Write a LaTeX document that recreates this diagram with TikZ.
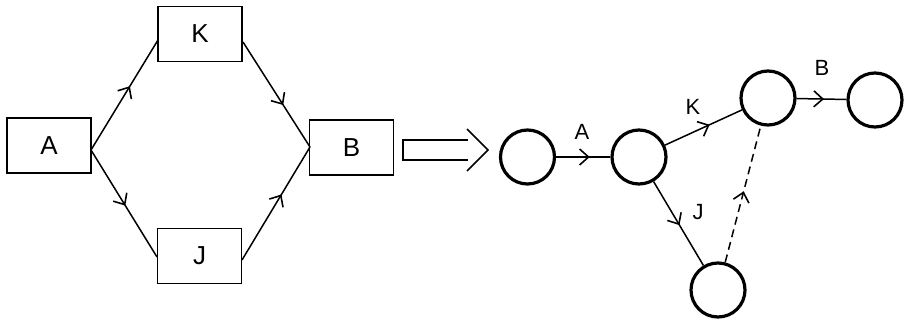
\documentclass[tikz,border=0pt]{standalone}
\usepackage{fontspec}
\setmainfont{Liberation Sans}
\usetikzlibrary{arrows.meta,decorations.markings}
\tikzset{
  box/.style={draw, line width=1.6pt, minimum width=84pt, minimum height=55pt, inner sep=0pt, font=\fontsize{26}{30}\selectfont},
  ev/.style={circle, draw, line width=3.2pt, minimum size=54pt, inner sep=0pt},
  lbl/.style={inner sep=0pt, font=\fontsize{22}{26}\selectfont},
  edge/.style={line width=1.5pt},
  midarrow/.style={postaction={decorate}, decoration={markings, mark=at position #1 with {\arrow{Straight Barb[length=9pt,width=16pt,line width=1.6pt]}}}}
}
\begin{document}
\begin{tikzpicture}[x=1pt,y=-1pt]
\useasboundingbox (0,0) rectangle (905,322);
% left network
\node[box] (A) at (49,145.5) {A};
\node[box] (K) at (200,34) {K};
\node[box] (J) at (199.5,256) {J};
\node[box] (B) at (351.5,147.5) {B};
\coordinate (ao) at (91,150);
\coordinate (bi) at (310,147);
\coordinate (ki) at (158,40);
\coordinate (ko) at (243,42);
\coordinate (ji) at (157,257);
\coordinate (jo) at (242,260);
\draw[edge, midarrow=0.58] (ao) -- (ki);
\draw[edge, midarrow=0.52] (ao) -- (ji);
\draw[edge, midarrow=0.6] (ko) -- (bi);
\draw[edge, midarrow=0.58] (jo) -- (bi);
% hollow arrow
\coordinate (h1) at (468,140);
\coordinate (h2) at (403,140);
\coordinate (h3) at (403,160);
\coordinate (h4) at (468,160);
\coordinate (t1) at (467,129);
\coordinate (tip) at (488,150);
\coordinate (t2) at (467,171);
\draw[line width=1.6pt] (h1) -- (h2) -- (h3) -- (h4);
\draw[line width=1.6pt] (t1) -- (tip) -- (t2);
% right network
\node[ev] (c1) at (527.5,157) {};
\node[ev] (c2) at (639,157) {};
\node[ev] (c3) at (768,98) {};
\node[ev] (c4) at (875,100) {};
\node[ev] (c5) at (718,290) {};
\draw[edge, midarrow=0.62] (c1) -- (c2);
\draw[edge, midarrow=0.58] (c2) -- (c3);
\draw[edge, midarrow=0.55] (c3) -- (c4);
\draw[edge, midarrow=0.52] (c2) -- (c5);
\draw[edge, dashed, dash pattern=on 8pt off 5pt, midarrow=0.52] (c5) -- (c3);
\node[lbl] (la) at (582,132) {A};
\node[lbl] (lk) at (693,107) {K};
\node[lbl] (lb) at (822,68) {B};
\node[lbl] (lj) at (698,212) {J};
\end{tikzpicture}
\end{document}
